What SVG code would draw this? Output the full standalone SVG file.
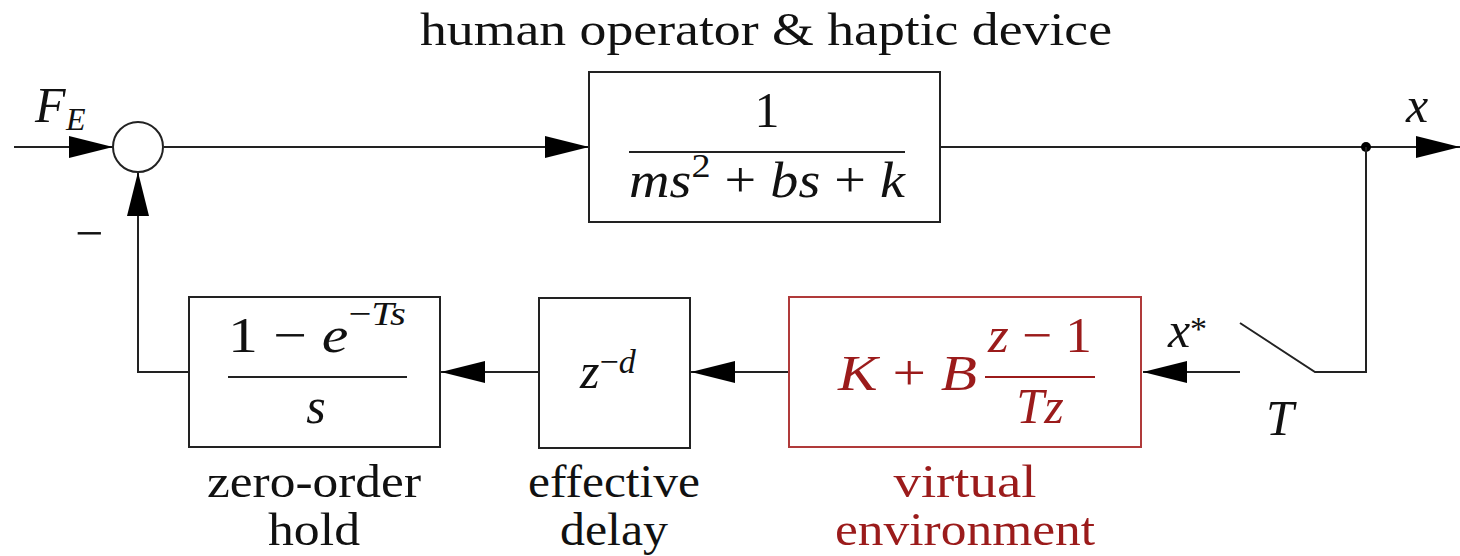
<svg xmlns="http://www.w3.org/2000/svg" width="1460" height="556" viewBox="0 0 1460 556">
<style>
text { font-family: "Liberation Serif", "Times New Roman", serif; fill: #111; }
.lbl { font-size: 46px; }
.m { font-size: 50px; }
.i { font-style: italic; }
.sup { font-size: 34px; }
.red { fill: #9b1b1b; }
.box { fill: #fff; stroke: #222; stroke-width: 2; }
.rbox { fill: #fff; stroke: #b03a3a; stroke-width: 2; }
.wire { fill: none; stroke: #222; stroke-width: 2; }
.frac { stroke: #222; stroke-width: 2; }
.rfrac { stroke: #9b1b1b; stroke-width: 2; }
</style>
<defs>
<marker id="arr" markerUnits="userSpaceOnUse" markerWidth="44" markerHeight="24" refX="44" refY="12" orient="auto">
<path d="M0,1 L44,12 L0,23 Z" fill="#000"/>
</marker>
</defs>

<text class="lbl" x="766" y="45" text-anchor="middle" textLength="692" lengthAdjust="spacingAndGlyphs">human operator &amp; haptic device</text>

<g id="connectors">
<path class="wire" d="M14,147 L113,147" marker-end="url(#arr)"/>
<path class="wire" d="M164,147 L589,147" marker-end="url(#arr)"/>
<path class="wire" d="M940,147 L1460,147" marker-end="url(#arr)"/>
<circle cx="1366" cy="147" r="5" fill="#000"/>
<path class="wire" d="M1366,147 L1366,372 L1315,372 L1240,323"/>
<path class="wire" d="M1240,372 L1143,372" marker-end="url(#arr)"/>
<path class="wire" d="M789,372 L691,372" marker-end="url(#arr)"/>
<path class="wire" d="M539,372 L441,372" marker-end="url(#arr)"/>
<path class="wire" d="M189,372 L138,372 L138,172" marker-end="url(#arr)"/>
</g>

<g id="sum">
<circle cx="138" cy="147" r="25" fill="#fff" stroke="#222" stroke-width="2"/>
</g>

<g id="labels">
<text class="m i" x="35" y="122">F</text>
<text class="i" x="66" y="130" font-size="32">E</text>
<text class="m" x="89" y="250" text-anchor="middle">−</text>
<text class="m i" x="1417" y="122" text-anchor="middle">x</text>
<text class="m i" x="1168" y="347">x</text>
<text class="sup" x="1190" y="340">*</text>
<text class="m i" x="1280" y="435" text-anchor="middle">T</text>
</g>

<g id="plant">
<rect class="box" x="589" y="72" width="351" height="150"/>
<text class="m" x="767" y="127" text-anchor="middle">1</text>
<line class="frac" x1="629" y1="152" x2="905" y2="152"/>
<text class="m" x="767" y="197" text-anchor="middle" textLength="276" lengthAdjust="spacingAndGlyphs"><tspan class="i">ms</tspan><tspan class="sup" dy="-20">2</tspan><tspan dy="20"> + </tspan><tspan class="i">bs</tspan> + <tspan class="i">k</tspan></text>
</g>

<g id="zoh">
<rect class="box" x="189" y="297" width="251" height="150"/>
<text class="m" x="228" y="352" textLength="178" lengthAdjust="spacingAndGlyphs">1 − <tspan class="i">e</tspan><tspan class="sup" dy="-27">−<tspan class="i">Ts</tspan></tspan></text>
<line class="frac" x1="228" y1="377" x2="407" y2="377"/>
<text class="m i" x="316" y="423" text-anchor="middle">s</text>
<text class="lbl" x="314" y="497" text-anchor="middle" textLength="214" lengthAdjust="spacingAndGlyphs">zero-order</text>
<text class="lbl" x="314" y="545" text-anchor="middle" textLength="92" lengthAdjust="spacingAndGlyphs">hold</text>
</g>

<g id="delay">
<rect class="box" x="539" y="298" width="151" height="150"/>
<text class="m" x="580" y="388"><tspan class="i">z</tspan><tspan class="sup" dy="-15">−<tspan class="i">d</tspan></tspan></text>
<text class="lbl" x="614" y="497" text-anchor="middle" textLength="172" lengthAdjust="spacingAndGlyphs">effective</text>
<text class="lbl" x="614" y="545" text-anchor="middle" textLength="108" lengthAdjust="spacingAndGlyphs">delay</text>
</g>

<g id="virtual-env">
<rect class="rbox" x="789" y="297" width="352" height="150"/>
<text class="m red" x="838" y="390" textLength="139" lengthAdjust="spacingAndGlyphs"><tspan class="i">K</tspan> + <tspan class="i">B</tspan></text>
<text class="m red" x="1040" y="352" text-anchor="middle" textLength="104" lengthAdjust="spacingAndGlyphs"><tspan class="i">z</tspan> − 1</text>
<line class="rfrac" x1="985" y1="377" x2="1095" y2="377"/>
<text class="m red i" x="1040" y="423" text-anchor="middle">Tz</text>
<text class="lbl red" x="965" y="497" text-anchor="middle" textLength="143" lengthAdjust="spacingAndGlyphs">virtual</text>
<text class="lbl red" x="965" y="545" text-anchor="middle" textLength="260" lengthAdjust="spacingAndGlyphs">environment</text>
</g>
</svg>
